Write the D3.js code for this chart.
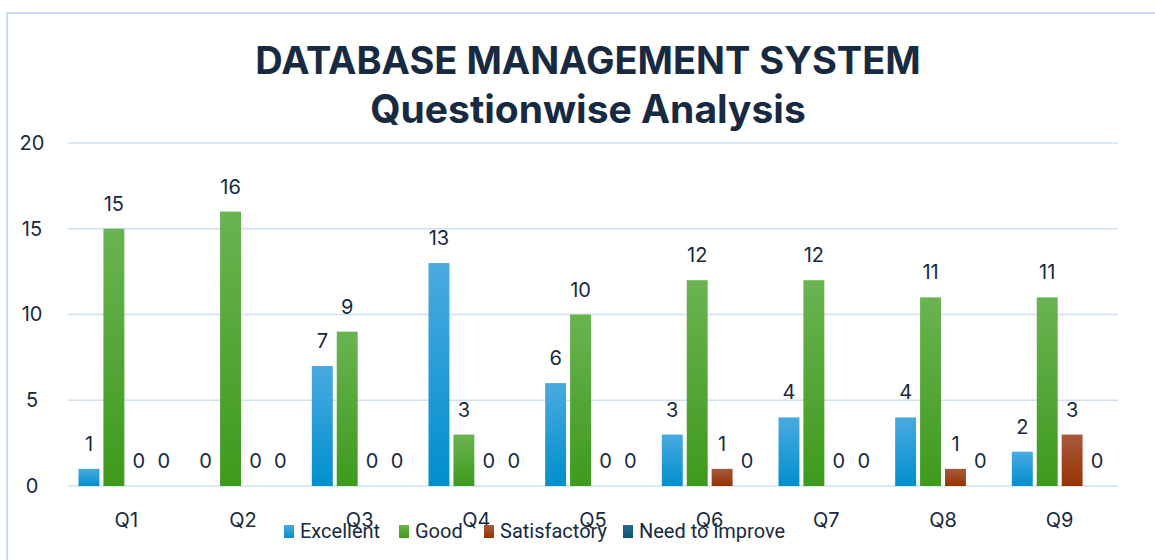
<!DOCTYPE html>
<html>
<head>
<meta charset="utf-8">
<script src="https://cdn.jsdelivr.net/npm/d3@7"></script>
<style>
    body { margin: 0; background: #fff; }
    svg text { font-family: Inter, "Open Sans", sans-serif; fill: #172a42; }
</style>
</head>
<body>
<div id="chart"></div>
<script>
var categories = ["Q1", "Q2", "Q3", "Q4", "Q5", "Q6", "Q7", "Q8", "Q9"];
var seriesNames = ["Excellent", "Good", "Satisfactory", "Need to improve"];
var excellent = [1, 0, 7, 13, 6, 3, 4, 4, 2];
var good = [15, 16, 9, 3, 10, 12, 12, 11, 11];
var satisfactory = [0, 0, 0, 0, 0, 1, 0, 1, 3];
var needToImprove = [0, 0, 0, 0, 0, 0, 0, 0, 0];
var yTicks = [0, 5, 10, 15, 20];

var seriesValues = [excellent, good, satisfactory, needToImprove];
var gradients = [
    ["#4aaae0", "#008fcd"],
    ["#6ab352", "#3e9a1c"],
    ["#a65a3e", "#973300"],
    ["#2a6d90", "#0d5478"]
];

var width = 1155, height = 560;
var margin = {left: 68, right: 37, top: 143, bottom: 74};

var svg = d3.select('#chart').append('svg')
    .attr('width', width)
    .attr('height', height);

// gradients for bars
var defs = svg.append('defs');
gradients.forEach(function (g, i) {
    var lg = defs.append('linearGradient')
        .attr('id', 'grad' + i)
        .attr('x1', 0).attr('y1', 0).attr('x2', 0).attr('y2', 1);
    lg.append('stop').attr('offset', '0%').attr('stop-color', g[0]);
    lg.append('stop').attr('offset', '100%').attr('stop-color', g[1]);
});

// chart frame
svg.append('path')
    .attr('d', 'M7,' + height + 'V13H' + width)
    .attr('fill', 'none')
    .attr('stroke', '#cadcf0')
    .attr('stroke-width', 2);

var x = d3.scaleBand()
    .domain(categories)
    .range([margin.left, width - margin.right])
    .paddingInner(0.18)
    .paddingOuter(0.09);

var x1 = d3.scaleBand()
    .domain(seriesNames)
    .range([0, x.bandwidth()])
    .paddingInner(0.16);

var y = d3.scaleLinear()
    .domain([0, 20])
    .range([height - margin.bottom, margin.top]);

// gridlines
svg.append('g')
    .selectAll('line')
    .data(yTicks)
    .enter()
    .append('line')
    .attr('x1', margin.left)
    .attr('x2', width - margin.right)
    .attr('y1', function (d) { return y(d); })
    .attr('y2', function (d) { return y(d); })
    .attr('stroke', '#cfe0f3')
    .attr('stroke-width', 1.5);

// y axis labels
var yAxis = d3.axisLeft(y).tickValues(yTicks).tickSize(0).tickPadding(24);
var yg = svg.append('g')
    .attr('transform', 'translate(' + margin.left + ',0)')
    .call(yAxis);
yg.select('.domain').remove();
yg.selectAll('text')
    .attr('font-size', 20)
    .attr('text-anchor', 'middle')
    .attr('dx', -12)
    .style('font-family', 'Inter, "Open Sans", sans-serif');

// x axis labels
var xAxis = d3.axisBottom(x).tickSize(0).tickPadding(27);
var xg = svg.append('g')
    .attr('transform', 'translate(0,' + y(0) + ')')
    .call(xAxis);
xg.select('.domain').remove();
xg.selectAll('text')
    .attr('font-size', 20)
    .style('font-family', 'Inter, "Open Sans", sans-serif');

// bars
var groups = svg.append('g')
    .selectAll('g')
    .data(categories)
    .enter()
    .append('g')
    .attr('transform', function (d) { return 'translate(' + x(d) + ',0)'; });

groups.selectAll('rect')
    .data(function (d, ci) {
        return seriesNames.map(function (s, si) {
            return {series: s, idx: si, value: seriesValues[si][ci]};
        });
    })
    .enter()
    .append('rect')
    .attr('x', function (d) { return x1(d.series); })
    .attr('width', x1.bandwidth())
    .attr('y', function (d) { return y(d.value); })
    .attr('height', function (d) { return y(0) - y(d.value); })
    .attr('fill', function (d) { return 'url(#grad' + d.idx + ')'; });

groups.selectAll('text.val')
    .data(function (d, ci) {
        return seriesNames.map(function (s, si) {
            return {series: s, value: seriesValues[si][ci]};
        });
    })
    .enter()
    .append('text')
    .attr('class', 'val')
    .attr('x', function (d) { return x1(d.series) + x1.bandwidth() / 2; })
    .attr('y', function (d) { return y(d.value) - 18; })
    .attr('text-anchor', 'middle')
    .attr('font-size', 20)
    .text(function (d) { return d.value; });

// title
var title = svg.append('text')
    .attr('x', 588)
    .attr('text-anchor', 'middle')
    .attr('font-size', 38)
    .attr('font-weight', 700);
title.append('tspan').attr('x', 588).attr('y', 74).text('DATABASE MANAGEMENT SYSTEM');
title.append('tspan').attr('x', 588).attr('y', 123).attr('font-size', 39).text('Questionwise Analysis');

// legend
var legendX = [284, 399, 484, 623];
var legend = svg.append('g')
    .selectAll('g')
    .data(seriesNames)
    .enter()
    .append('g')
    .attr('transform', function (d, i) { return 'translate(' + legendX[i] + ',525)'; });

legend.append('rect')
    .attr('width', 10)
    .attr('height', 13)
    .attr('fill', function (d, i) { return 'url(#grad' + i + ')'; });

legend.append('text')
    .attr('x', 16)
    .attr('y', 13)
    .attr('font-size', 20)
    .style('font-family', 'Roboto, sans-serif')
    .text(function (d) { return d; });
</script>
</body>
</html>
